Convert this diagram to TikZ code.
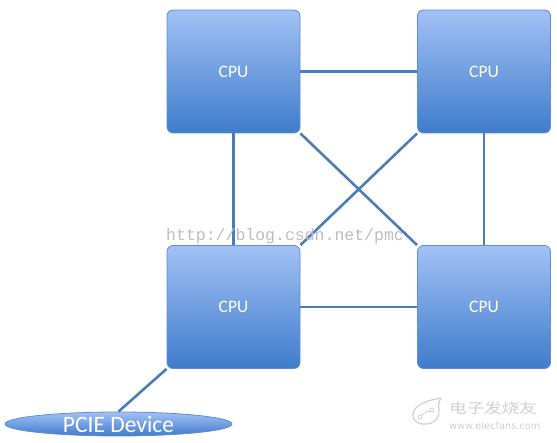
\documentclass[tikz,border=0pt]{standalone}
\usepackage{fontspec}
\setmainfont{Carlito}
\newfontfamily\wmfont{Liberation Mono}
\newfontfamily\logofont{DejaVu Sans}
\newfontfamily\cjk{Noto Sans CJK SC}
\usetikzlibrary{shapes.geometric}
\definecolor{CTop}{HTML}{A3C1F5}
\definecolor{CBot}{HTML}{3F7CCB}
\definecolor{CEdge}{HTML}{5E8FD3}
\definecolor{CLink}{HTML}{4A7EBB}
\definecolor{CMark}{HTML}{BDBDBD}
\definecolor{CLogo}{HTML}{CFCFCF}
\tikzset{
  cpu/.style={minimum width=133pt, minimum height=123pt, inner sep=0pt, rounded corners=6pt,
    draw=CEdge, line width=0.8pt, top color=CTop, bottom color=CBot, text=white,
    font=\fontsize{17.5}{19}\selectfont},
  dev/.style={shape=ellipse, minimum width=227pt, minimum height=24pt, inner sep=0pt,
    draw=CEdge, line width=0.8pt, top color=CTop, bottom color=CBot, text=white,
    font=\fontsize{23.5}{24}\selectfont},
  link/.style={draw=CLink, line width=2.6pt},
  logo/.style={draw=CLogo, line width=1.2pt},
}

\begin{document}
\begin{tikzpicture}[x=1pt,y=-1pt]
\useasboundingbox (0,0) rectangle (557,443);

% four processors and the device
\node (n0) [cpu, at={(233.5,71.5)}] {CPU};
\node (n1) [cpu, at={(484,71.5)}] {CPU};
\node (n2) [cpu, at={(233.5,307)}] {CPU};
\node (n3) [cpu, at={(484,307)}] {CPU};
\node (n4) [dev, at={(118.5,424)}] {PCIE Device};

% links
\path [link] (n0) -- (n1);
\path [link] (n2) -- (n3);
\path [link] (n0) -- (n2);
\path [link] (n1) -- (n3);
\path [link] (n0.south east) -- (n3.north west);
\path [link] (n1.south west) -- (n2.north east);
\path [link] (n2.south west) -- (n4.north);

% watermarks
\node (w0) [anchor=base west, inner sep=0pt, text=CMark, font=\wmfont\fontsize{16.5}{18}\selectfont, at={(166,241)}] {http://blog.csdn.net/pmc};
\node (w1) [anchor=west, inner sep=0pt, text=CLogo, xscale=1.25, font=\cjk\fontsize{14}{16}\selectfont, at={(449,408)}] {电子发烧友};
\node (w2) [anchor=west, inner sep=0pt, text=CLogo, font=\logofont\fontsize{9.8}{11}\selectfont, at={(449,426)}] {www.elecfans.com};
\draw [logo] (441,398) .. controls (430,400) and (414,404) .. (413,414)
  .. controls (412,422) and (420,425) .. (427,424)
  .. controls (436,423) and (440,416) .. (439,409)
  .. controls (438,405) and (439,401) .. (441,398);
\draw [logo, line width=0.8pt] (420,417) circle (2pt) (432,410) circle (2pt);
\draw [logo, line width=0.8pt] (421.5,415.5) -- (426,412) -- (430,411);
\end{tikzpicture}
\end{document}
